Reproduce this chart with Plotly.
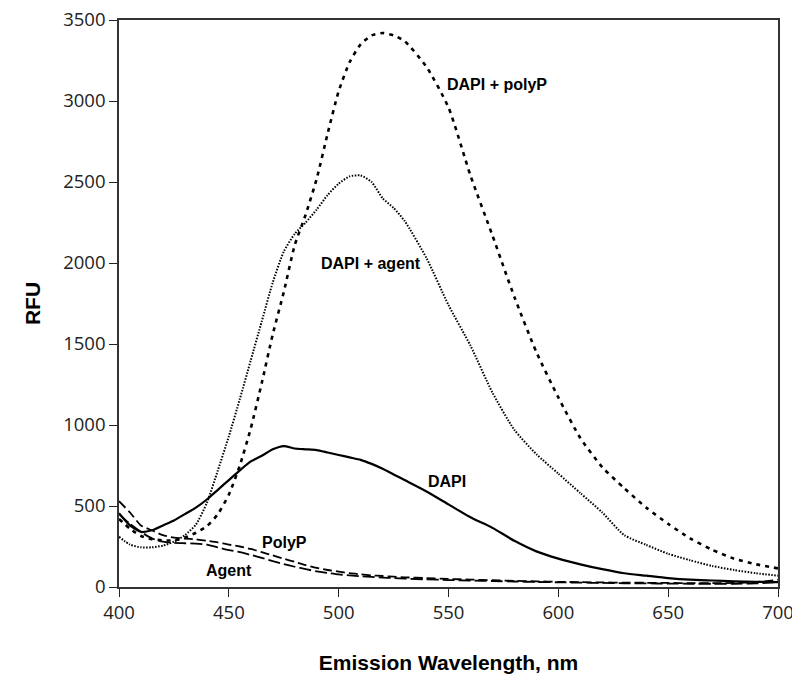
import plotly.graph_objects as go

# ── Data ──────────────────────────────────────────────────
wavelength = [400, 405, 410, 415, 420, 425, 430, 435, 440, 445, 450, 455, 460, 465,
              470, 475, 480, 485, 490, 495, 500, 505, 510, 515, 520, 525, 530, 540,
              550, 560, 570, 580, 590, 600, 610, 620, 630, 640, 650, 660, 670, 680,
              690, 700]

dapi_polyp = [420, 360, 315, 295, 288, 288, 305, 335, 375, 450, 570, 750, 980, 1260,
              1560, 1820, 2110, 2300, 2520, 2800, 3060, 3240, 3350, 3405, 3420, 3405,
              3370, 3210, 2960, 2540, 2170, 1790, 1450, 1170, 920, 740, 610, 490, 390,
              300, 230, 175, 140, 115]

dapi_agent = [310, 262, 245, 245, 255, 280, 320, 385, 520, 720, 930, 1160, 1400, 1640,
              1880, 2070, 2180, 2250, 2330, 2420, 2490, 2535, 2540, 2500, 2400, 2340,
              2260, 2030, 1740, 1490, 1200, 970, 820, 700, 580, 460, 320, 260, 205,
              165, 130, 105, 85, 70]

dapi = [455, 380, 340, 350, 380, 410, 450, 490, 540, 600, 660, 720, 775, 810, 850, 870,
        855, 850, 845, 830, 815, 800, 785, 760, 730, 695, 660, 590, 510, 430, 365, 285,
        220, 175, 140, 110, 85, 70, 55, 45, 40, 35, 32, 30]

polyp = [530, 460, 380, 350, 320, 305, 298, 295, 285, 275, 262, 250, 235, 215, 195, 175,
         155, 135, 118, 105, 95, 85, 78, 72, 68, 64, 60, 55, 50, 46, 42, 38, 35, 32, 30,
         28, 27, 26, 25, 24, 24, 25, 30, 45]

agent = [450, 390, 340, 300, 280, 272, 270, 268, 262, 245, 228, 215, 198, 180, 160, 142,
         125, 110, 97, 87, 78, 72, 66, 62, 58, 55, 52, 47, 43, 40, 37, 34, 31, 29, 27,
         25, 23, 22, 21, 20, 20, 20, 22, 30]

x_ticks = [400, 450, 500, 550, 600, 650, 700]
y_ticks = [0, 500, 1000, 1500, 2000, 2500, 3000, 3500]

# ── Series styles ─────────────────────────────────────────
series = [
    ("DAPI + polyP", dapi_polyp, dict(width=2.6, dash="4px,5px")),
    ("DAPI + agent", dapi_agent, dict(width=2, dash="1.5px,1.5px")),
    ("DAPI", dapi, dict(width=2.2, dash="solid")),
    ("PolyP", polyp, dict(width=1.8, dash="9px,4px")),
    ("Agent", agent, dict(width=1.8, dash="12px,4px")),
]

fig = go.Figure()
for name, values, style in series:
    fig.add_trace(go.Scatter(
        x=wavelength, y=values, name=name, mode="lines",
        line=dict(color="black", shape="spline", smoothing=0.6, **style),
    ))

# ── Curve labels ──────────────────────────────────────────
labels = [
    ("DAPI + polyP", 572, 3100),
    ("DAPI + agent", 514.5, 1995),
    ("DAPI", 549.5, 651),
    ("PolyP", 475.5, 275),
    ("Agent", 450, 104),
]
for text, lx, ly in labels:
    fig.add_annotation(x=lx, y=ly, text="<b>%s</b>" % text, showarrow=False,
                       font=dict(family="Liberation Sans", size=16, color="black"),
                       xref="x", yref="y")

# page body adds ~8px offset, so the figure is 8px smaller than the window
bold = "<b>%s</b>"
fig.update_layout(
    width=792, height=684,
    margin=dict(l=111, r=22, t=12, b=105),
    paper_bgcolor="white", plot_bgcolor="white",
    showlegend=False,
    xaxis=dict(
        range=[400, 700], tickvals=x_ticks, ticks="outside", ticklen=8,
        tickcolor="#222", showgrid=False, zeroline=False, automargin=False,
        showline=True, linecolor="#333", linewidth=1.6, mirror=True,
        ticklabeloverflow="allow",
        tickfont=dict(family="Open Sans", size=18.5, color="#222"),
        title=dict(text=bold % "Emission Wavelength, nm", standoff=32,
                   font=dict(family="Liberation Sans", size=21, color="black")),
    ),
    yaxis=dict(
        range=[0, 3500], tickvals=y_ticks, ticks="outside", ticklen=8,
        tickcolor="#222", showgrid=False, zeroline=False, automargin=False,
        showline=True, linecolor="#333", linewidth=1.6, mirror=True,
        ticklabeloverflow="allow",
        tickfont=dict(family="Open Sans", size=18.5, color="#222"),
        title=dict(text=bold % "RFU", standoff=17,
                   font=dict(family="Liberation Sans", size=21, color="black")),
    ),
)

fig.write_html("out.html")
